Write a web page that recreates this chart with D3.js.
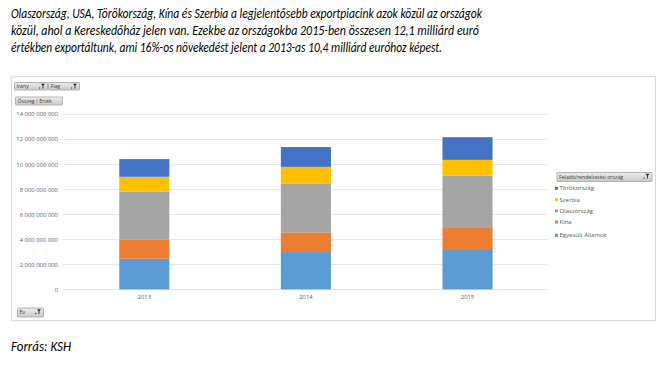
<!DOCTYPE html>
<html><head><meta charset="utf-8">
<script src="https://cdn.jsdelivr.net/npm/d3@7"></script>
<style>body{margin:0;background:#fff}svg{display:block}</style>
</head><body>
<script>
const years = ["2013", "2014", "2015"];
const seriesNames = ["Egyesült Államok", "Kína", "Olaszország", "Szerbia", "Törökország"];
const usa = [2450000000, 2980000000, 3220000000];
const kina = [1510000000, 1570000000, 1680000000];
const olasz = [3830000000, 3910000000, 4170000000];
const szerbia = [1200000000, 1320000000, 1270000000];
const torok = [1410000000, 1580000000, 1810000000];
const colors = ["#5B9BD5", "#ED7D31", "#A5A5A5", "#FFC000", "#4472C4"];
const tickValues = [0, 2e9, 4e9, 6e9, 8e9, 10e9, 12e9, 14e9];
const titleLines = [
  "Olaszország, USA, Törökország, Kína és Szerbia a legjelentősebb exportpiacink azok közül az országok",
  "közül, ahol a Kereskedőház jelen van. Ezekbe az országokba 2015-ben összesen 12,1 milliárd euró",
  "értékben exportáltunk, ami 16%-os növekedést jelent a 2013-as 10,4 milliárd euróhoz képest."
];
const sourceText = "Forrás: KSH";

const W = 666, H = 376;
const svg = d3.select("body").append("svg").attr("width", W).attr("height", H);
const defs = svg.append("defs");
const g = defs.append("linearGradient").attr("id","btn").attr("x1",0).attr("y1",0).attr("x2",0).attr("y2",1);
g.append("stop").attr("offset","0").attr("stop-color","#ececec");
g.append("stop").attr("offset","1").attr("stop-color","#c9c9c9");

const titleFont = "Carlito, 'Liberation Sans Narrow', 'Open Sans', 'Liberation Sans', sans-serif";
const titleWidths = [471, 468, 431];
const titleY = [18, 35, 52];
titleLines.forEach((t, i) => {
  svg.append("text").attr("x", 11).attr("y", titleY[i])
    .attr("font-family", titleFont).attr("font-style", "italic").attr("font-size", 14)
    .attr("fill", "#000").attr("textLength", titleWidths[i]).attr("lengthAdjust", "spacingAndGlyphs")
    .text(t);
});

// frame
svg.append("rect").attr("x", 11.5).attr("y", 76.5).attr("width", 644).attr("height", 244)
  .attr("fill", "#fff").attr("stroke", "#d9d9d9");

const y = d3.scaleLinear().domain([0, 14e9]).range([289.4, 114]);
const x = d3.scaleBand().domain(years).range([63.5, 548.3]).paddingInner(0.69).paddingOuter(0.345);

// gridlines
svg.append("g").selectAll("line").data(tickValues).join("line")
  .attr("x1", 63).attr("x2", 548)
  .attr("y1", d => Math.round(y(d)) + 0.5).attr("y2", d => Math.round(y(d)) + 0.5)
  .attr("stroke", "#e6e6e6").attr("stroke-width", 1);

// y axis
const yAxis = d3.axisLeft(y).tickValues(tickValues).tickSize(0).tickPadding(0)
  .tickFormat(d => d3.format(",")(d).replace(/,/g, " "));
const ya = svg.append("g").attr("transform", "translate(58,0)").call(yAxis);
ya.select(".domain").remove();
ya.selectAll("text").attr("font-family", "'Open Sans', sans-serif").attr("font-size", 5.9).attr("fill", "#595959");

// x axis
const xAxis = d3.axisBottom(x).tickSize(0).tickPadding(0);
const xa = svg.append("g").attr("transform", "translate(0,295)").call(xAxis);
xa.select(".domain").remove();
xa.selectAll("text").attr("font-family", "'Open Sans', sans-serif").attr("font-size", 5.9).attr("fill", "#595959");

// data
const table = years.map((yr, i) => ({
  year: yr,
  "Egyesült Államok": usa[i], "Kína": kina[i], "Olaszország": olasz[i],
  "Szerbia": szerbia[i], "Törökország": torok[i]
}));
const stacked = d3.stack().keys(seriesNames)(table);
svg.append("g").selectAll("g").data(stacked).join("g")
  .attr("fill", (d, i) => colors[i])
  .selectAll("rect").data(d => d).join("rect")
  .attr("x", d => x(d.data.year)).attr("width", x.bandwidth())
  .attr("y", d => y(d[1])).attr("height", d => y(d[0]) - y(d[1]));

// buttons
function button(x0, y0, w, h, label, filter) {
  const b = svg.append("g");
  b.append("rect").attr("x", x0 + 0.5).attr("y", y0 + 0.5).attr("width", w).attr("height", h)
    .attr("fill", "url(#btn)").attr("stroke", "#b3b3b3").attr("rx", 0.5);
  b.append("text").attr("x", x0 + 2.5).attr("y", y0 + h / 2 + 2)
    .attr("font-family", "'Open Sans', sans-serif").attr("font-size", 5.2).attr("fill", "#404040").text(label);
  if (filter) {
    const fx = x0 + w - 6, fy = y0 + 1.8;
    b.append("path").attr("d", `M${fx},${fy}h4l-1.5,2v2.8h-1v-2.8z`).attr("fill", "#333");
    b.append("rect").attr("x", fx - 2).attr("y", fy + 3.6).attr("width", 1.2).attr("height", 1.2).attr("fill", "#333");
  }
}
button(14, 82, 33, 7.5, "Irány", true);
button(48, 82, 31, 7.5, "Flag", true);
button(15, 96.5, 47, 8, "Összeg / Érték", false);
button(17, 307.5, 26, 9, "Év", true);
button(556.5, 172, 95, 9, "Feladó/rendeltetési ország", true);

// legend
const legendOrder = seriesNames.map((n, i) => ({ n, c: colors[i] })).reverse();
const legendY = [188.3, 199.5, 210.8, 222, 235.3];
const lg = svg.append("g").selectAll("g").data(legendOrder).join("g")
  .attr("transform", (d, i) => `translate(555,${legendY[i]})`);
lg.append("rect").attr("x", 0).attr("y", -1.5).attr("width", 3).attr("height", 3).attr("fill", d => d.c);
lg.append("text").attr("x", 4.5).attr("y", 2).attr("font-family", "'Open Sans', sans-serif")
  .attr("font-size", 6).attr("fill", "#595959").text(d => d.n);

// source
svg.append("text").attr("x", 11).attr("y", 351).attr("font-family", titleFont)
  .attr("font-style", "italic").attr("font-size", 14).attr("fill", "#000")
  .attr("textLength", 60).attr("lengthAdjust", "spacingAndGlyphs").text(sourceText);
</script>
</body></html>
